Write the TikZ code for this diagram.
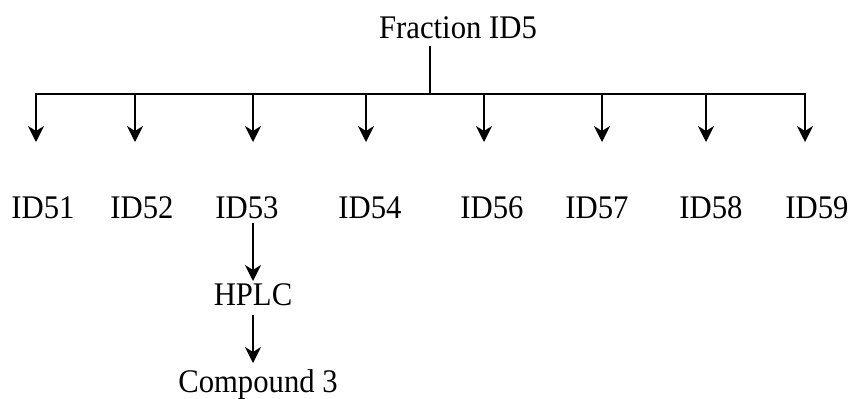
\documentclass[tikz,border=0pt]{standalone}
\usepackage{fontspec}
\setmainfont{Liberation Serif}[FakeStretch=0.93]
\usetikzlibrary{arrows.meta}
\begin{document}
\begin{tikzpicture}[x=1pt,y=-1pt,
  lbl/.style={anchor=base,inner sep=0pt,font=\fontsize{33}{38}\selectfont},
  conn/.style={line width=1.7pt},
  arr/.style={conn,-{Stealth[length=16pt,width=16pt,inset=5pt]}}]
\useasboundingbox (0,0) rectangle (852,399);
% labels
\node[lbl] (frac) at (458,38) {Fraction ID5};
\node[lbl] (id51) at (43,218) {ID51};
\node[lbl] (id52) at (142,218) {ID52};
\node[lbl] (id53) at (247,218) {ID53};
\node[lbl] (id54) at (370,218) {ID54};
\node[lbl] (id56) at (492,218) {ID56};
\node[lbl] (id57) at (597,218) {ID57};
\node[lbl] (id58) at (711,218) {ID58};
\node[lbl] (id59) at (817,218) {ID59};
\node[lbl] (hplc) at (253,305) {HPLC};
\node[lbl] (cmp) at (258,392) {Compound 3};
% bus coordinates
\coordinate (stemtop) at (430,46);
\coordinate (stembot) at (430,94);
\foreach \n/\x in {1/36,2/135,3/253,4/366,6/484,7/602,8/706,9/805}{
  \coordinate (b\n) at (\x,94);
  \coordinate (t\n) at (\x,142);
}
\coordinate (h1) at (253,223);
\coordinate (h2) at (253,281);
\coordinate (c1) at (253,315);
\coordinate (c2) at (253,363);
% connectors
\draw[conn] (stemtop) -- (stembot);
\draw[conn,line cap=rect] (b1) -- (b9);
\foreach \n in {1,2,3,4,6,7,8,9}{
  \draw[arr] (b\n) -- (t\n);
}
\draw[arr] (h1) -- (h2);
\draw[arr] (c1) -- (c2);
\end{tikzpicture}
\end{document}
